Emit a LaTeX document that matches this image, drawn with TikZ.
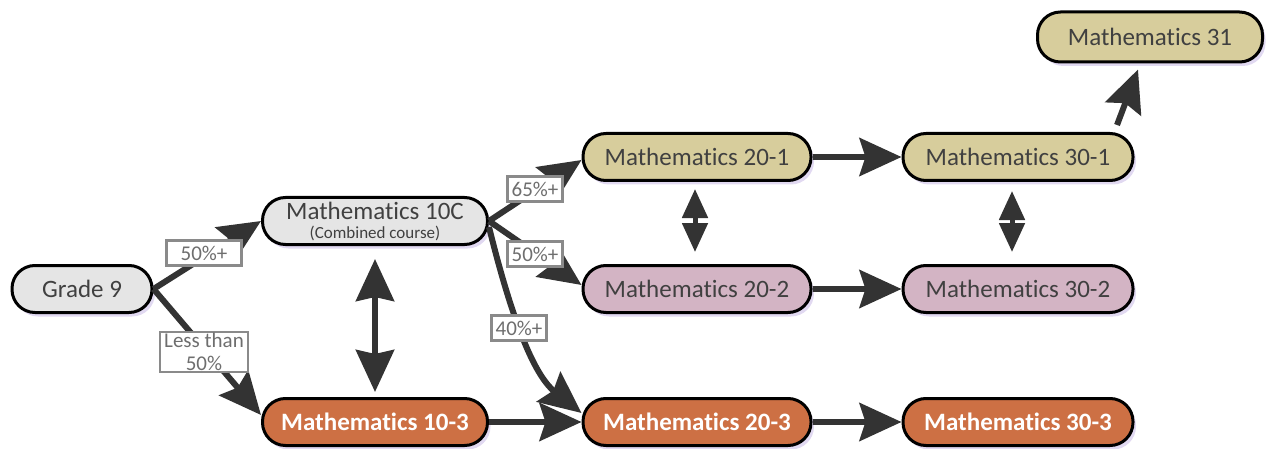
\documentclass[tikz,border=0pt]{standalone}
\usepackage{fontspec}
\setmainfont{Carlito}[Ligatures=NoCommon]
\usetikzlibrary{arrows.meta,shadows}

\definecolor{paleGray}{HTML}{E5E5E5}
\definecolor{khaki}{HTML}{D7CD9C}
\definecolor{mauve}{HTML}{D3B4C4}
\definecolor{rust}{HTML}{CD7044}
\definecolor{ink}{HTML}{404040}
\definecolor{arrowGray}{HTML}{333333}
\definecolor{tagGray}{HTML}{8A8A8A}
\definecolor{tagText}{HTML}{6E6E6E}
\definecolor{glow}{HTML}{C9B9E6}

\tikzset{
  course/.style={draw=black, line width=3pt, rounded corners=23pt,
    minimum height=47pt, minimum width=228pt, inner sep=0pt, text=ink,
    font=\fontsize{25}{28}\selectfont, align=center,
    general shadow={fill=glow, opacity=0.55, shadow xshift=3pt, shadow yshift=-4pt}},
  basic/.style={course, fill=paleGray},
  track1/.style={course, fill=khaki},
  track2/.style={course, fill=mauve},
  track3/.style={course, fill=rust, text=white, font=\fontsize{25}{28}\selectfont\bfseries},
  flow/.style={draw=arrowGray, line width=6pt,
    -{Stealth[length=42pt, width=38pt, inset=6pt]}},
  swapbig/.style={draw=arrowGray, line width=6pt,
    {Stealth[length=42pt, width=38pt, inset=4pt]}-{Stealth[length=42pt, width=38pt, inset=4pt]}},
  swapsmall/.style={draw=arrowGray, line width=5pt,
    {Stealth[length=29pt, width=25pt, inset=0pt]}-{Stealth[length=29pt, width=25pt, inset=0pt]}},
  pct/.style={draw=tagGray, line width=2.5pt, fill=white, text=tagText,
    font=\fontsize{21}{23}\selectfont, inner xsep=4pt, inner ysep=1pt,
    minimum height=25pt, align=center}
}

\begin{document}
\begin{tikzpicture}[x=1pt, y=-1pt]
  \useasboundingbox (0,0) rectangle (1271,449);

  % courses
  \node[basic, minimum width=140pt] (g9) at (82,289) {Grade 9};
  \node[basic, minimum width=225pt] (m10c) at (375,221)
    {Mathematics 10C\\[-9pt]{\fontsize{17}{18}\selectfont(Combined course)}};
  \node[track3, minimum width=225pt] (m103) at (375,422) {Mathematics 10-3};

  \node[track1] (m201) at (697,157) {Mathematics 20-1};
  \node[track2] (m202) at (697,289) {Mathematics 20-2};
  \node[track3] (m203) at (697,422) {Mathematics 20-3};

  \node[track1, minimum width=230pt] (m301) at (1018,157) {Mathematics 30-1};
  \node[track2, minimum width=230pt] (m302) at (1018,289) {Mathematics 30-2};
  \node[track3, minimum width=230pt] (m303) at (1018,422) {Mathematics 30-3};

  \node[track1, minimum width=225pt, minimum height=50pt] (m31) at (1150,37) {Mathematics 31};

  % pathways
  \draw[flow] (g9.east) -- (m10c.west);
  \draw[flow] (g9.east) -- ([yshift=7pt]m103.west);

  \draw[flow] (m10c.east) -- ([yshift=-3pt]m201.west);
  \draw[flow] (m10c.east) -- ([yshift=4pt]m202.west);
  \draw[flow] ([yshift=-6pt]m10c.east) .. controls (507,300) and (530,372) .. ([yshift=9pt]m203.west);

  \draw[flow] (m103.east) -- (m203.west);
  \draw[flow] (m201.east) -- (m301.west);
  \draw[flow] (m202.east) -- (m302.west);
  \draw[flow] (m203.east) -- (m303.west);

  \draw[flow] ([xshift=99pt, yshift=7pt]m301.north) -- ([xshift=-12pt, yshift=-6pt]m31.south);

  % transfers between streams
  \draw[swapbig] ([yshift=-13pt]m10c.south) -- ([yshift=5pt]m103.north);
  \draw[swapsmall] ([xshift=-2pt, yshift=-7pt]m201.south) -- ([xshift=-2pt, yshift=12pt]m202.north);
  \draw[swapsmall] ([xshift=-6pt, yshift=-9pt]m301.south) -- ([xshift=-6pt, yshift=12pt]m302.north);

  % grade requirements
  \node[pct, minimum width=75pt] (t1) at (204,253) {50\%+};
  \node[pct] (t2) at (204,352) {Less than\\50\%};
  \node[pct] (t3) at (535,189) {65\%+};
  \node[pct] (t4) at (535,254) {50\%+};
  \node[pct] (t5) at (519,328) {40\%+};
\end{tikzpicture}
\end{document}
